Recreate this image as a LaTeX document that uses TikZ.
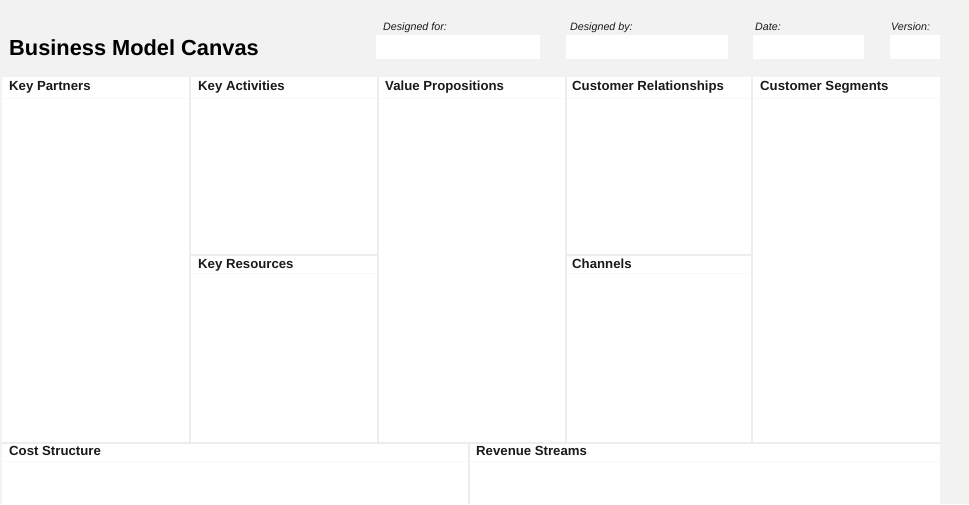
\documentclass[tikz,border=0pt]{standalone}
\usepackage{fontspec}
\setmainfont{Liberation Sans}
\definecolor{bggray}{HTML}{F2F2F2}
\definecolor{divgray}{HTML}{EDEDED}
\definecolor{faintgray}{HTML}{F9F9F9}
\definecolor{txt}{HTML}{1A1A1A}
\tikzset{
  sect/.style={anchor=base west, inner sep=0pt, font=\fontsize{13.2}{15}\selectfont\bfseries, text=txt},
  hdr/.style={anchor=base west, inner sep=0pt, font=\fontsize{10.7}{12}\selectfont\itshape, text=txt},
  divider/.style={draw=divgray, line width=1.4pt},
  faint/.style={draw=faintgray, line width=0.8pt}
}
\begin{document}
\begin{tikzpicture}[x=1pt,y=-1pt]
\useasboundingbox (0,0) rectangle (969,504);
\fill[bggray] (0,0) rectangle (969,504);
% title
\node[anchor=base west, inner sep=0pt, font=\fontsize{21.8}{25}\selectfont\bfseries, text=black] (title) at (9,55) {Business Model Canvas};
% header fields
\node[hdr] (lfor) at (383,30) {Designed for:};
\node[hdr] (lby) at (570,30) {Designed by:};
\node[hdr] (ldate) at (755,30) {Date:};
\node[hdr] (lver) at (891,30) {Version:};
\fill[white] (376,35) rectangle (540,59);
\fill[white] (566,35) rectangle (728,59);
\fill[white] (753,35) rectangle (864,59);
\fill[white] (890,35) rectangle (940,59);
% canvas
\fill[white] (2,77) rectangle (940,504);
% faint lines under titles
\draw[faint] (2,98) -- (940,98);
\draw[faint] (191,273) -- (378,273);
\draw[faint] (566,273) -- (752,273);
\draw[faint] (2,461) -- (940,461);
% dividers
\draw[divider] (190,77) -- (190,443);
\draw[divider] (378,77) -- (378,443);
\draw[divider] (566,77) -- (566,443);
\draw[divider] (752,77) -- (752,443);
\draw[divider] (190,255) -- (378,255);
\draw[divider] (566,255) -- (752,255);
\draw[divider] (2,443) -- (940,443);
\draw[divider] (469,443) -- (469,504);
% section labels
\node[sect] (kp) at (9,90) {Key Partners};
\node[sect] (ka) at (198,90) {Key Activities};
\node[sect] (vp) at (385,90) {Value Propositions};
\node[sect] (cr) at (572,90) {Customer Relationships};
\node[sect] (cs) at (760,90) {Customer Segments};
\node[sect] (kr) at (198,268) {Key Resources};
\node[sect] (ch) at (572,268) {Channels};
\node[sect] (cost) at (9,455) {Cost Structure};
\node[sect] (rev) at (476,455) {Revenue Streams};
\end{tikzpicture}
\end{document}
